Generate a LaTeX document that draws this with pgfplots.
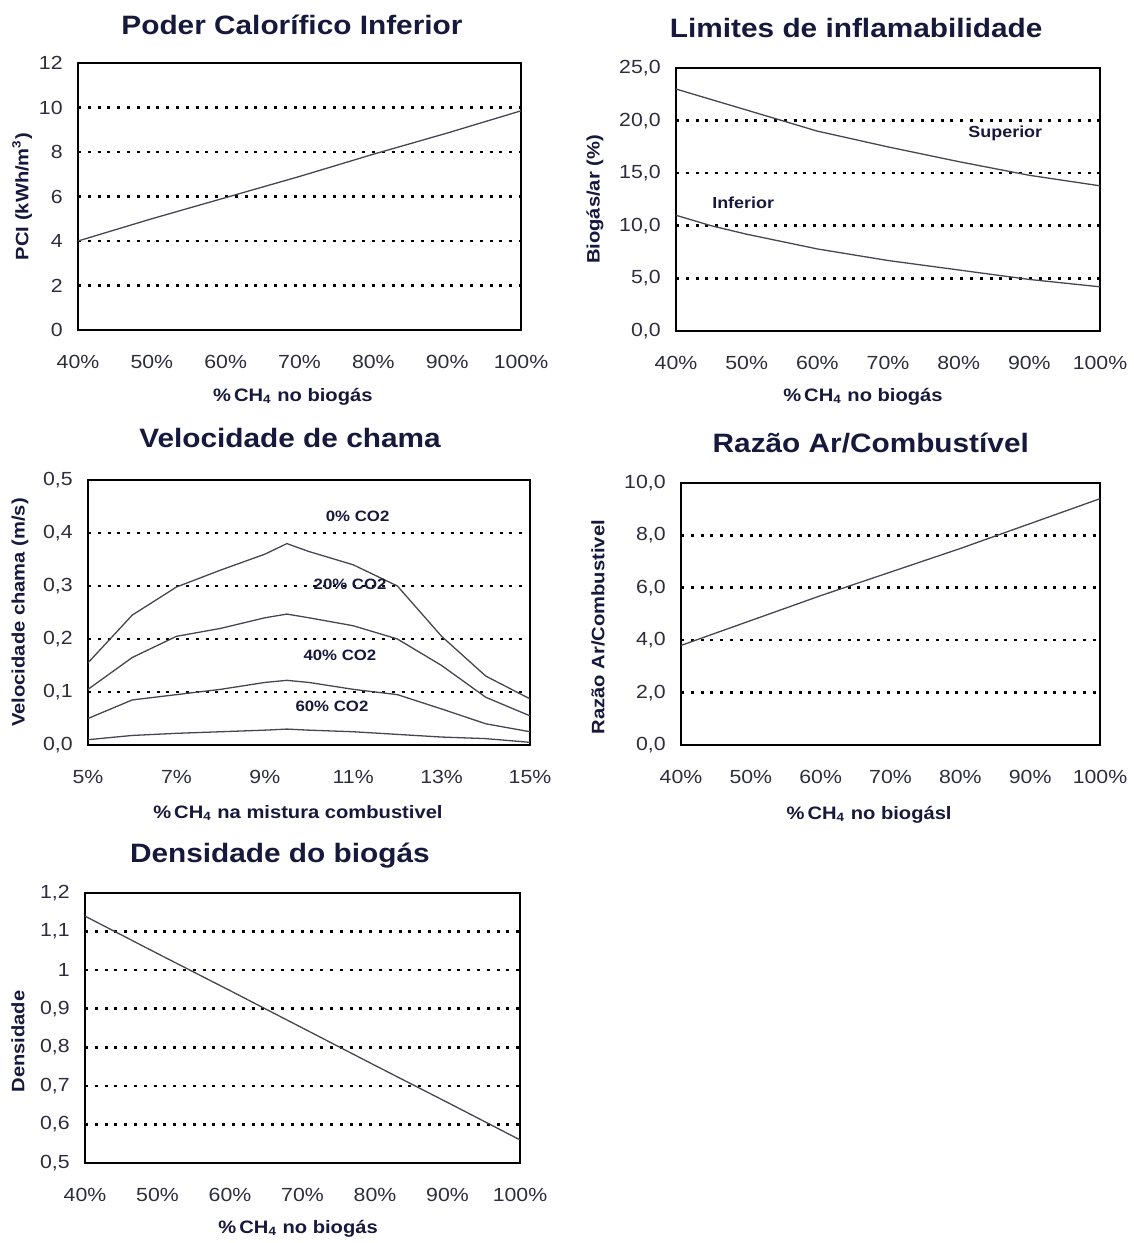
\documentclass[border=0pt]{standalone}
\usepackage{fontspec}
\setmainfont{Liberation Sans}[FakeStretch=1.12]
\usepackage{pgfplots}
\pgfplotsset{compat=1.18}
\definecolor{ink}{RGB}{22,24,60}
\definecolor{tickc}{RGB}{45,45,62}
\definecolor{curve}{RGB}{70,70,80}
\pgfplotsset{
  panel/.style={
    scale only axis, anchor=south west,
    axis line style={black, line width=0.8pt},
    major tick length=0pt,
    ymajorgrids,
    grid style={black, line width=1.3pt, dash pattern=on 1.5pt off 3.4pt},
    xticklabel style={font=\fontsize{9.5}{11}\selectfont, text=tickc, anchor=center, yshift=-16pt},
    yticklabel style={font=\fontsize{9.5}{11}\selectfont, text=tickc, anchor=east, inner sep=0pt, xshift=-7.5pt},
    title style={font=\fontsize{13.3}{15}\selectfont\bfseries, text=ink, anchor=center},
  },
  ln/.style={curve, line width=0.65pt, mark=none},
  xl/.style 2 args={every axis x label/.style={at={(axis description cs:#1,#2)}, anchor=center, font=\fontsize{9}{11}\selectfont\bfseries, text=ink}},
  yl/.style 2 args={every axis y label/.style={at={(axis description cs:#1,#2)}, anchor=center, rotate=90, font=\fontsize{9}{11}\selectfont\bfseries, text=ink}},
  tt/.style n args={3}{title style={at={(axis description cs:#1,1)}, yshift=#2}},
  pctx/.style={xmin=40, xmax=100, xtick={40,50,60,70,80,90,100}, xticklabels={40\%,50\%,60\%,70\%,80\%,90\%,100\%}},
}
\begin{document}
\begin{tikzpicture}
\path[use as bounding box] (0,0) rectangle (567pt,621.5pt);

% Panel 1: PCI
\begin{axis}[panel, pctx, at={(39pt,456.5pt)}, width=221.5pt, height=133.5pt,
  ymin=0, ymax=12, ytick={0,2,4,6,8,10,12},
  yticklabels={0,2,4,6,8,10,12},
  title={Poder Calorífico Inferior}, tt={0.483}{13pt}{},
  xl={0.485}{-0.251}, yl={-0.126}{0.5},
  xlabel={\%\,CH\textsubscript{4} no biogás}, ylabel={PCI (kWh/m\textsuperscript{3})}]
\addplot[ln] coordinates {(40,4.0) (50,5.0) (60,5.95) (70,6.9) (80,7.9) (90,8.85) (100,9.85)};
\end{axis}

% Panel 2: Limites de inflamabilidade
\begin{axis}[panel, pctx, at={(338pt,456pt)}, width=212pt, height=131.5pt,
  ymin=0, ymax=25, ytick={0,5,10,15,20,25},
  yticklabels={{0,0},{5,0},{10,0},{15,0},{20,0},{25,0}},
  title={Limites de inflamabilidade}, tt={0.425}{14pt}{},
  xl={0.441}{-0.251}, yl={-0.191}{0.5},
  xlabel={\%\,CH\textsubscript{4} no biogás}, ylabel={Biogás/ar (\%)}]
\addplot[ln] coordinates {(40,23.0) (50,21.0) (55,20.0) (60,19.0) (70,17.5) (80,16.1) (90,14.8) (100,13.8)};
\addplot[ln] coordinates {(40,11.0) (45,10.0) (50,9.2) (60,7.8) (70,6.7) (80,5.8) (90,4.9) (100,4.2)};
\node[font=\fontsize{8}{10}\selectfont\bfseries, text=ink] at (axis cs:86.6,18.8) {Superior};
\node[font=\fontsize{8}{10}\selectfont\bfseries, text=ink] at (axis cs:49.5,12.2) {Inferior};
\end{axis}

% Panel 3: Velocidade de chama
\begin{axis}[panel, at={(44pt,249pt)}, width=221pt, height=132.5pt,
  xmin=5, xmax=15, xtick={5,7,9,11,13,15}, xticklabels={5\%,7\%,9\%,11\%,13\%,15\%},
  ymin=0, ymax=0.5, ytick={0,0.1,0.2,0.3,0.4,0.5},
  yticklabels={{0,0},{0,1},{0,2},{0,3},{0,4},{0,5}},
  title={Velocidade de chama}, tt={0.457}{15pt}{},
  xl={0.475}{-0.257}, yl={-0.154}{0.5},
  xlabel={\%\,CH\textsubscript{4} na mistura combustivel}, ylabel={Velocidade chama (m/s)}]
\addplot[ln] coordinates {(5,0.155) (6,0.245) (7,0.298) (8,0.33) (9,0.36) (9.5,0.38) (10,0.365) (11,0.34) (12,0.30) (13,0.205) (14,0.13) (15,0.087)};
\addplot[ln] coordinates {(5,0.105) (6,0.165) (7,0.205) (8,0.22) (9,0.24) (9.5,0.247) (10,0.24) (11,0.225) (12,0.20) (13,0.15) (14,0.09) (15,0.055)};
\addplot[ln] coordinates {(5,0.05) (6,0.085) (7,0.095) (8,0.105) (9,0.118) (9.5,0.122) (10,0.118) (11,0.105) (12,0.095) (13,0.068) (14,0.04) (15,0.025)};
\addplot[ln] coordinates {(5,0.01) (6,0.018) (7,0.022) (8,0.025) (9,0.028) (9.5,0.03) (10,0.028) (11,0.025) (12,0.02) (13,0.015) (14,0.012) (15,0.005)};
\node[font=\fontsize{7.5}{9}\selectfont\bfseries, text=ink] at (axis cs:11.1,0.432) {0\% CO2};
\node[font=\fontsize{7.5}{9}\selectfont\bfseries, text=ink] at (axis cs:10.93,0.304) {20\% CO2};
\node[font=\fontsize{7.5}{9}\selectfont\bfseries, text=ink] at (axis cs:10.70,0.170) {40\% CO2};
\node[font=\fontsize{7.5}{9}\selectfont\bfseries, text=ink] at (axis cs:10.52,0.072) {60\% CO2};
\end{axis}

% Panel 4: Razão Ar/Combustível
\begin{axis}[panel, pctx, at={(340.5pt,249pt)}, width=209.5pt, height=131pt,
  ymin=0, ymax=10, ytick={0,2,4,6,8,10},
  yticklabels={{0,0},{2,0},{4,0},{6,0},{8,0},{10,0}},
  title={Razão Ar/Combustível}, tt={0.453}{14pt}{},
  xl={0.449}{-0.267}, yl={-0.198}{0.45},
  xlabel={\%\,CH\textsubscript{4} no biogásl}, ylabel={Razão Ar/Combustivel}]
\addplot[ln] coordinates {(40,3.8) (50,4.75) (60,5.7) (70,6.6) (80,7.5) (90,8.45) (100,9.4)};
\end{axis}

% Panel 5: Densidade do biogás
\begin{axis}[panel, pctx, at={(42.5pt,40pt)}, width=217.5pt, height=135pt,
  ymin=0.5, ymax=1.2, ytick={0.5,0.6,0.7,0.8,0.9,1,1.1,1.2},
  yticklabels={{0,5},{0,6},{0,7},{0,8},{0,9},1,{1,1},{1,2}},
  title={Densidade do biogás}, tt={0.448}{12.5pt}{},
  xl={0.49}{-0.244}, yl={-0.154}{0.45},
  xlabel={\%\,CH\textsubscript{4} no biogás}, ylabel={Densidade}]
\addplot[ln] coordinates {(40,1.14) (50,1.043) (60,0.947) (70,0.85) (80,0.753) (90,0.657) (100,0.56)};
\end{axis}
\end{tikzpicture}
\end{document}
